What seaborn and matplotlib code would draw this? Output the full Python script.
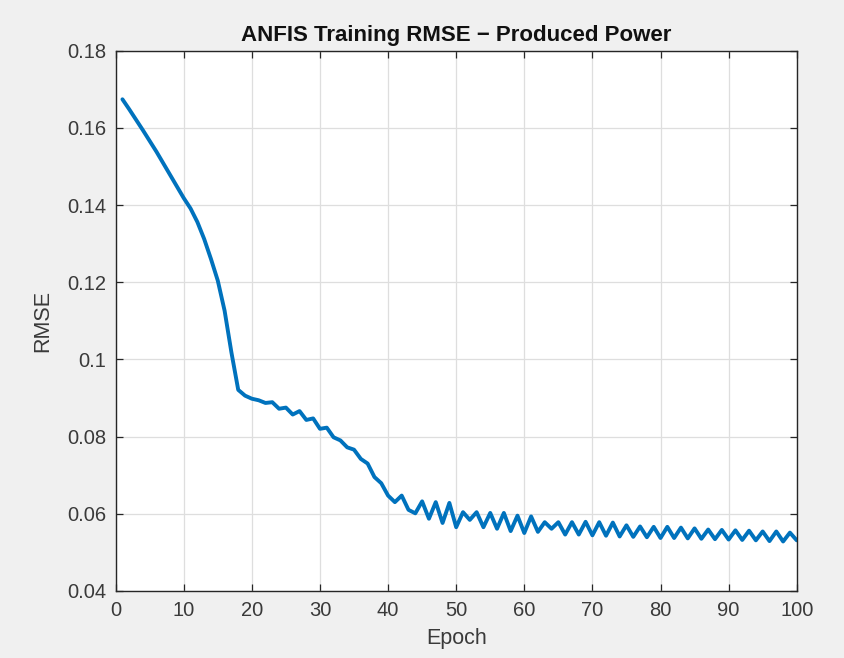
import numpy as np
import pandas as pd
import seaborn as sns
import matplotlib
matplotlib.use("Agg")
import matplotlib.pyplot as plt

epochs = list(range(1, 101))
rmse = [
    0.1674, 0.1648, 0.1621, 0.1594, 0.1566, 0.1538, 0.1508, 0.1478, 0.1448, 0.1418,
    0.1391, 0.1356, 0.1312, 0.1260, 0.1204, 0.1126, 0.1018, 0.0921, 0.0906, 0.0898,
    0.0894, 0.0887, 0.0889, 0.0872, 0.0875, 0.0857, 0.0866, 0.0843, 0.0847, 0.0820,
    0.0823, 0.0798, 0.0790, 0.0772, 0.0766, 0.0742, 0.0730, 0.0695, 0.0679, 0.0647,
    0.0630, 0.0647, 0.0610, 0.0601, 0.0632, 0.0587, 0.0630, 0.0576, 0.0628, 0.0565,
    0.0604, 0.0584, 0.0604, 0.0565, 0.0602, 0.0561, 0.0602, 0.0555, 0.0595, 0.0550,
    0.0593, 0.0553, 0.0578, 0.0561, 0.0578, 0.0546, 0.0578, 0.0546, 0.0579, 0.0544,
    0.0578, 0.0543, 0.0577, 0.0541, 0.0570, 0.0540, 0.0567, 0.0539, 0.0566, 0.0537,
    0.0566, 0.0537, 0.0564, 0.0536, 0.0562, 0.0535, 0.0559, 0.0534, 0.0558, 0.0533,
    0.0557, 0.0532, 0.0556, 0.0531, 0.0554, 0.0529, 0.0554, 0.0528, 0.0551, 0.0531,
]
x_ticks = [0, 10, 20, 30, 40, 50, 60, 70, 80, 90, 100]
y_ticks = [0.04, 0.06, 0.08, 0.1, 0.12, 0.14, 0.16, 0.18]
y_tick_labels = ["0.04", "0.06", "0.08", "0.1", "0.12", "0.14", "0.16", "0.18"]

df = pd.DataFrame({"Epoch": epochs, "RMSE": rmse})

sns.set_theme(style="whitegrid")
plt.rcParams["font.family"] = ["Liberation Sans", "DejaVu Sans"]

fig = plt.figure(figsize=(8.44, 6.58), dpi=100, facecolor="#f0f0f0")
ax = fig.add_axes([0.137, 0.102, 0.807, 0.821])
ax.set_facecolor("white")

sns.lineplot(data=df, x="Epoch", y="RMSE", ax=ax, color="#0072BD", linewidth=2.8)

ax.set_xlim(0, 100)
ax.set_ylim(0.04, 0.18)
ax.set_xticks(x_ticks)
ax.set_yticks(y_ticks)
ax.set_yticklabels(y_tick_labels)
ax.grid(True, color="#dedede", linewidth=0.9)
for s in ax.spines.values():
    s.set_visible(True)
    s.set_color("#262626")
    s.set_linewidth(1.0)
ax.tick_params(direction="in", length=5, width=0.9, color="#262626",
               labelsize=14.5, labelcolor="#3a3a3a", top=True, right=True,
               labeltop=False, labelright=False, bottom=True, left=True, pad=7)
ax.set_xlabel("Epoch", fontsize=15.5, color="#3a3a3a", labelpad=6)
ax.set_ylabel("RMSE", fontsize=15.5, color="#3a3a3a", labelpad=10)
ax.set_title("ANFIS Training RMSE \u2212 Produced Power", fontsize=16,
             fontweight="bold", color="#111111", pad=7)

fig.savefig("out.png", dpi=100, facecolor=fig.get_facecolor())
